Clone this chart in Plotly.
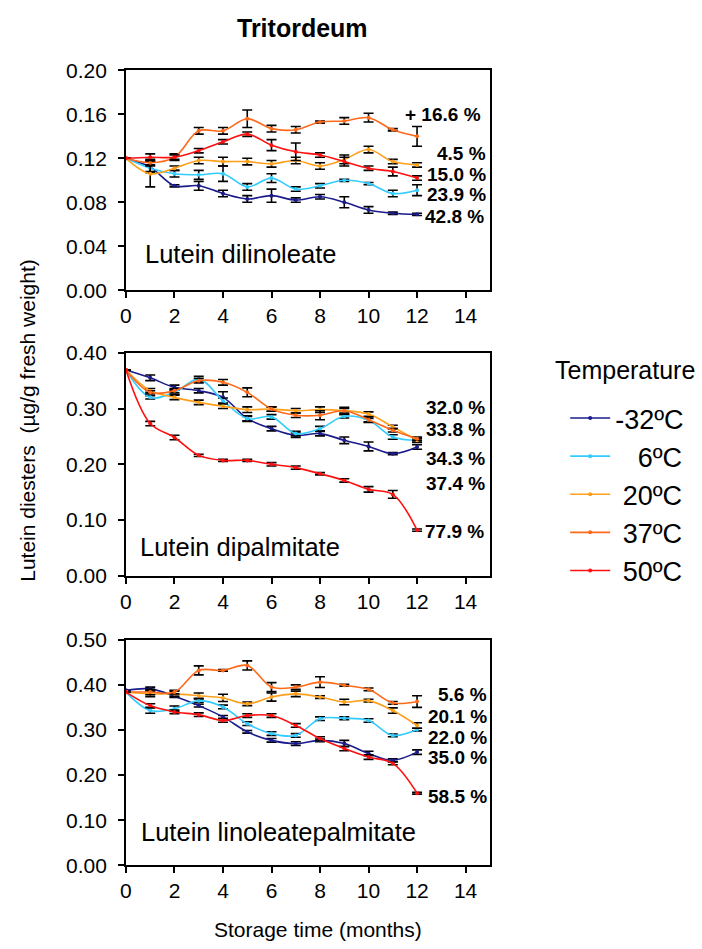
import plotly.graph_objects as go

months = list(range(13))
temps = ["-32ºC", "6ºC", "20ºC", "37ºC", "50ºC"]
legend_labels = ["-32ºC", "\u00a0\u00a0\u00a06ºC", "\u00a020ºC", "\u00a037ºC", "\u00a050ºC"]
colors = ["#1B1B8C", "#33CCFF", "#FF9F1A", "#FF6A1A", "#FF1010"]

# Panel 1: Lutein dilinoleate
p1_vals = {
    "-32ºC": [0.120, 0.112, 0.095, 0.095, 0.088, 0.083, 0.086, 0.082, 0.085, 0.080, 0.073, 0.070, 0.069],
    "6ºC":   [0.120, 0.111, 0.106, 0.105, 0.106, 0.094, 0.102, 0.092, 0.095, 0.100, 0.097, 0.088, 0.091],
    "20ºC":  [0.120, 0.106, 0.111, 0.118, 0.117, 0.117, 0.115, 0.118, 0.113, 0.119, 0.128, 0.117, 0.114],
    "37ºC":  [0.120, 0.116, 0.121, 0.145, 0.145, 0.156, 0.147, 0.146, 0.153, 0.154, 0.157, 0.146, 0.140],
    "50ºC":  [0.120, 0.121, 0.121, 0.127, 0.135, 0.142, 0.132, 0.126, 0.123, 0.117, 0.111, 0.108, 0.102],
}
p1_err = {
    "-32ºC": [0, 0.005, 0.001, 0.004, 0.003, 0.003, 0.006, 0.002, 0.002, 0.005, 0.003, 0.001, 0.001],
    "6ºC":   [0, 0.003, 0.003, 0.004, 0.007, 0.003, 0.004, 0.002, 0.002, 0.001, 0.001, 0.003, 0.005],
    "20ºC":  [0, 0.012, 0.002, 0.003, 0.004, 0.003, 0.003, 0.003, 0.003, 0.004, 0.003, 0.002, 0.002],
    "37ºC":  [0, 0.003, 0.003, 0.003, 0.003, 0.008, 0.003, 0.003, 0.001, 0.003, 0.004, 0.001, 0.009],
    "50ºC":  [0, 0.003, 0.002, 0.002, 0.002, 0.002, 0.005, 0.008, 0.002, 0.004, 0.002, 0.004, 0.002],
}
p1_pct = ["+ 16.6 %", "4.5 %", "15.0 %", "23.9 %", "42.8 %"]
p1_pct_y = [0.160, 0.1245, 0.1055, 0.0873, 0.0673]
p1_pct_x = [14.7, 14.92, 14.92, 14.92, 14.85]

# Panel 2: Lutein dipalmitate
p2_vals = {
    "-32ºC": [0.369, 0.355, 0.338, 0.332, 0.320, 0.282, 0.264, 0.252, 0.255, 0.243, 0.232, 0.219, 0.231],
    "6ºC":   [0.369, 0.320, 0.329, 0.353, 0.314, 0.282, 0.285, 0.255, 0.264, 0.286, 0.279, 0.249, 0.243],
    "20ºC":  [0.369, 0.332, 0.320, 0.311, 0.304, 0.298, 0.299, 0.296, 0.298, 0.296, 0.290, 0.267, 0.243],
    "37ºC":  [0.369, 0.329, 0.332, 0.350, 0.347, 0.329, 0.299, 0.288, 0.288, 0.296, 0.280, 0.261, 0.246],
    "50ºC":  [0.369, 0.273, 0.248, 0.216, 0.207, 0.207, 0.200, 0.194, 0.183, 0.171, 0.155, 0.146, 0.082],
}
p2_err = {
    "-32ºC": [0, 0.005, 0.004, 0.004, 0.010, 0.004, 0.004, 0.004, 0.004, 0.006, 0.008, 0.002, 0.004],
    "6ºC":   [0, 0.003, 0.004, 0.005, 0.005, 0.005, 0.004, 0.004, 0.004, 0.003, 0.003, 0.004, 0.004],
    "20ºC":  [0, 0.004, 0.004, 0.004, 0.004, 0.005, 0.004, 0.004, 0.005, 0.004, 0.004, 0.003, 0.003],
    "37ºC":  [0, 0.003, 0.004, 0.004, 0.005, 0.008, 0.004, 0.004, 0.008, 0.006, 0.005, 0.003, 0.003],
    "50ºC":  [0, 0.004, 0.004, 0.002, 0.002, 0.002, 0.003, 0.003, 0.002, 0.003, 0.005, 0.007, 0.002],
}
p2_pct = ["32.0 %", "33.8 %", "34.3 %", "37.4 %", "77.9 %"]
p2_pct_y = [0.302, 0.263, 0.211, 0.166, 0.079]
p2_pct_x = [14.9, 14.9, 14.9, 14.9, 14.85]

# Panel 3: Lutein linoleatepalmitate
p3_vals = {
    "-32ºC": [0.388, 0.391, 0.375, 0.354, 0.329, 0.296, 0.277, 0.270, 0.277, 0.270, 0.248, 0.233, 0.251],
    "6ºC":   [0.384, 0.343, 0.347, 0.365, 0.351, 0.314, 0.292, 0.288, 0.325, 0.326, 0.321, 0.288, 0.301],
    "20ºC":  [0.384, 0.380, 0.380, 0.376, 0.371, 0.358, 0.373, 0.380, 0.373, 0.362, 0.365, 0.343, 0.310],
    "37ºC":  [0.384, 0.384, 0.384, 0.432, 0.432, 0.443, 0.395, 0.395, 0.406, 0.399, 0.390, 0.360, 0.363],
    "50ºC":  [0.384, 0.354, 0.340, 0.334, 0.321, 0.332, 0.332, 0.310, 0.281, 0.259, 0.240, 0.226, 0.160],
}
p3_err = {
    "-32ºC": [0, 0.004, 0.003, 0.003, 0.003, 0.003, 0.004, 0.004, 0.003, 0.007, 0.005, 0.003, 0.005],
    "6ºC":   [0, 0.006, 0.006, 0.004, 0.004, 0.004, 0.004, 0.004, 0.004, 0.003, 0.004, 0.003, 0.003],
    "20ºC":  [0, 0.006, 0.006, 0.006, 0.008, 0.004, 0.009, 0.006, 0.003, 0.006, 0.003, 0.006, 0.006],
    "37ºC":  [0, 0.006, 0.004, 0.010, 0.002, 0.010, 0.010, 0.005, 0.012, 0.002, 0.003, 0.003, 0.013],
    "50ºC":  [0, 0.004, 0.004, 0.004, 0.004, 0.004, 0.004, 0.004, 0.004, 0.005, 0.005, 0.003, 0.002],
}
p3_pct = ["5.6 %", "20.1 %", "22.0 %", "35.0 %", "58.5 %"]
p3_pct_y = [0.378, 0.330, 0.283, 0.238, 0.153]
p3_pct_x = [14.95, 14.98, 14.98, 14.95, 14.98]

panel_names = ["Lutein dilinoleate", "Lutein dipalmitate", "Lutein linoleatepalmitate"]
panel_name_x = [0.72, 0.5, 0.55]
panel_name_y = [0.0327, 0.052, 0.073]
y_ranges = [[0, 0.20], [0, 0.40], [0, 0.50]]
y_dticks = [0.04, 0.10, 0.10]

W, H = 702, 949
# map target picture pixels to paper fractions
def fx(px):
    return (px - 2) / W
def fy(py):
    return 1 - ((py - 11.5) / 0.977) / H

x_dom = [fx(123), fx(490)]
y_doms = [[fy(290), fy(70)], [fy(576), fy(352.7)], [fy(866), fy(640)]]

FONT = "Liberation Sans, Arial, sans-serif"
fig = go.Figure()

panels = [(p1_vals, p1_err, p1_pct, p1_pct_y, p1_pct_x),
          (p2_vals, p2_err, p2_pct, p2_pct_y, p2_pct_x),
          (p3_vals, p3_err, p3_pct, p3_pct_y, p3_pct_x)]

annotations = []
for i, (vals, errs, pcts, pcty, pctx) in enumerate(panels):
    xa = "x" if i == 0 else f"x{i+1}"
    ya = "y" if i == 0 else f"y{i+1}"
    for t, c, lab in zip(temps, colors, legend_labels):
        fig.add_trace(go.Scatter(
            x=months, y=vals[t], mode="lines+markers", name=lab,
            line=dict(color=c, width=1.6, shape="spline", smoothing=1.0),
            marker=dict(color=c, size=4),
            error_y=dict(type="data", array=errs[t], color="black", thickness=1.6, width=5),
            xaxis=xa, yaxis=ya, showlegend=(i == 0), legendgroup=t,
        ))
    for txt, yv, xv in zip(pcts, pcty, pctx):
        annotations.append(dict(x=xv, y=yv, xref=xa, yref=ya, text=f"<b>{txt}</b>",
                                showarrow=False, xanchor="right", yanchor="middle",
                                font=dict(size=19, color="black", family=FONT)))
    annotations.append(dict(x=panel_name_x[i], y=panel_name_y[i], xref=xa, yref=ya,
                            text=panel_names[i],
                            showarrow=False, xanchor="left", yanchor="middle",
                            font=dict(size=25.5, color="black", family=FONT)))

axis_common = dict(showline=True, linecolor="black", linewidth=1.6, mirror=True,
                   ticks="outside", ticklen=6, tickwidth=1.6, tickcolor="black",
                   showgrid=False, zeroline=False,
                   tickfont=dict(size=21, color="black", family=FONT))
layout = dict(width=W, height=H, margin=dict(l=0, r=0, t=0, b=0),
              plot_bgcolor="white", paper_bgcolor="white",
              font=dict(family=FONT, color="black"))
for i in range(3):
    xk = "xaxis" if i == 0 else f"xaxis{i+1}"
    yk = "yaxis" if i == 0 else f"yaxis{i+1}"
    ya = "y" if i == 0 else f"y{i+1}"
    xa = "x" if i == 0 else f"x{i+1}"
    layout[xk] = dict(axis_common, domain=x_dom, range=[0, 15], tickvals=list(range(0, 15, 2)),
                      anchor=ya)
    layout[yk] = dict(axis_common, domain=y_doms[i], range=y_ranges[i], dtick=y_dticks[i],
                      tick0=0, tickformat=".2f", anchor=xa, ticklabelstandoff=7)

annotations.append(dict(x=fx(301), y=fy(28), xref="paper", yref="paper",
                        text="<b>Tritordeum</b>", showarrow=False,
                        xanchor="center", yanchor="middle",
                        font=dict(size=25, color="black", family=FONT)))
annotations.append(dict(x=fx(317), y=fy(930), xref="paper", yref="paper",
                        text="Storage time (months)", showarrow=False,
                        xanchor="center", yanchor="middle",
                        font=dict(size=21, color="black", family=FONT)))
annotations.append(dict(x=fx(24), y=fy(420), xref="paper", yref="paper",
                        text="Lutein diesters  (µg/g fresh weight)", showarrow=False,
                        textangle=-90, xanchor="center", yanchor="middle",
                        font=dict(size=21, color="black", family=FONT)))
annotations.append(dict(x=fx(626), y=fy(370), xref="paper", yref="paper",
                        text="Temperature", showarrow=False,
                        xanchor="center", yanchor="middle",
                        font=dict(size=25, color="black", family=FONT)))
layout["annotations"] = annotations
layout["legend"] = dict(x=fx(566), y=fy(394), xanchor="left", yanchor="top",
                        font=dict(size=27, family=FONT, color="black"),
                        tracegroupgap=0, itemwidth=40, bgcolor="rgba(0,0,0,0)")
fig.update_layout(**layout)
fig.write_html("out.html")
